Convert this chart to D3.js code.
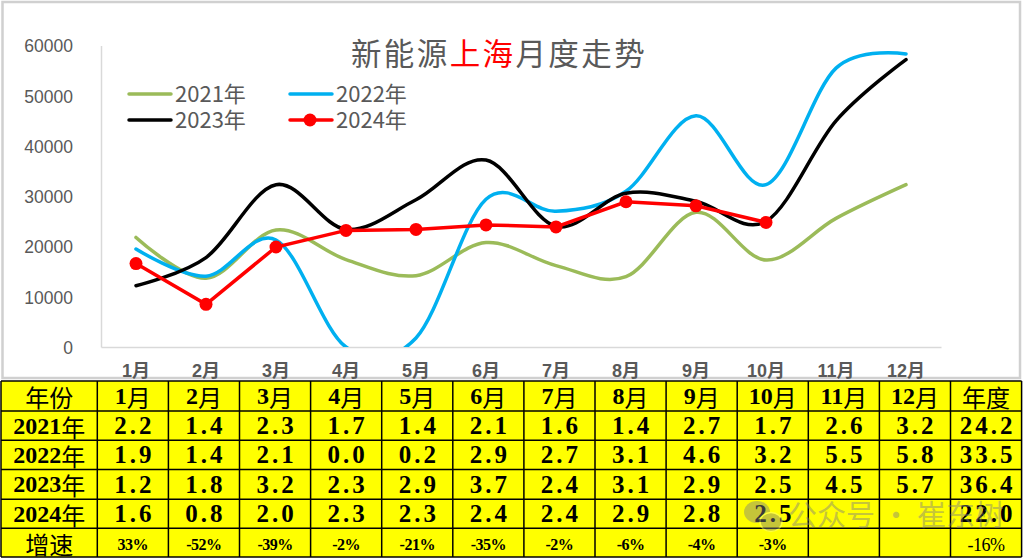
<!DOCTYPE html>
<html><head><meta charset="utf-8">
<script src="https://cdn.jsdelivr.net/npm/d3@7"></script>
<style>html,body{margin:0;padding:0;background:#fff;}svg{display:block;}</style>
</head><body>
<svg id="c" width="1024" height="559"></svg>
<script>
const months = ["1月","2月","3月","4月","5月","6月","7月","8月","9月","10月","11月","12月"];
const yTicks = [0,10000,20000,30000,40000,50000,60000];
const s2021 = [21800,13700,23300,17400,14200,20800,16200,14000,26800,17300,25600,32300];
const s2022 = [19500,14100,21300,0,1800,29400,27000,31000,46000,32300,55500,58300];
const s2023 = [12200,17800,32300,23400,29300,37200,24000,30600,29000,25000,45000,57200];
const s2024 = [16600,8500,19900,23200,23400,24300,23900,28900,28100,24800];
const seriesNames = ["2021年","2022年","2023年","2024年"];
const seriesColors = ["#9BBB59","#00B0F0","#000000","#FF0000"];
const tableHeader = ["年份","1月","2月","3月","4月","5月","6月","7月","8月","9月","10月","11月","12月","年度"];
const t2021 = ["2.2","1.4","2.3","1.7","1.4","2.1","1.6","1.4","2.7","1.7","2.6","3.2","24.2"];
const t2022 = ["1.9","1.4","2.1","0.0","0.2","2.9","2.7","3.1","4.6","3.2","5.5","5.8","33.5"];
const t2023 = ["1.2","1.8","3.2","2.3","2.9","3.7","2.4","3.1","2.9","2.5","4.5","5.7","36.4"];
const t2024 = ["1.6","0.8","2.0","2.3","2.3","2.4","2.4","2.9","2.8","2.5","","","22.0"];
const growth = ["33%","-52%","-39%","-2%","-21%","-35%","-2%","-6%","-4%","-3%","","","-16%"];

const svg = d3.select("#c");
const grey = "#595959";

// chart frame
svg.append("rect").attr("x",2.5).attr("y",2).attr("width",1017.5).attr("height",376)
  .attr("fill","#fff").attr("stroke","#d0d0d0").attr("stroke-width",2.5);

const x = d3.scaleBand().domain(months).range([101,941]);
const y = d3.scaleLinear().domain([0,60000]).range([347,45.5]);
const cx = m => x(m) + x.bandwidth()/2;

// axes
const yAxis = svg.append("g").attr("transform","translate(101,0)")
  .call(d3.axisLeft(y).tickValues(yTicks).tickSize(0).tickPadding(28).tickFormat(d3.format("d")));
yAxis.select(".domain").attr("stroke","#d9d9d9").attr("stroke-width",1.5);
yAxis.selectAll("text").attr("font-family","Liberation Sans, Arial, sans-serif")
  .attr("font-size",17.5).attr("fill",grey).attr("dy","0.36em");

const xAxis = svg.append("g").attr("transform","translate(0,347)")
  .call(d3.axisBottom(x).tickSize(0).tickPadding(0));
xAxis.select(".domain").attr("stroke","#d9d9d9").attr("stroke-width",1.5);
xAxis.selectAll("text").attr("font-family","Liberation Sans, 'Noto Sans CJK SC', sans-serif")
  .attr("font-size",18).attr("font-weight","bold").attr("fill",grey).attr("dy","0").attr("y",30);

// clip
svg.append("clipPath").attr("id","pc").append("rect").attr("x",0).attr("y",0).attr("width",1024).attr("height",347);

const gL = svg.append("g").attr("clip-path","url(#pc)");
const smooth = d3.line().x((d,i)=>cx(months[i])).y(d=>y(d)).curve(d3.curveCardinal.tension(0));
const straight = d3.line().x((d,i)=>cx(months[i])).y(d=>y(d));
[s2021,s2022,s2023].forEach((s,k)=>{
  gL.append("path").attr("d",smooth(s)).attr("fill","none").attr("stroke",seriesColors[k])
    .attr("stroke-width",3.5).attr("stroke-linecap","round");
});
gL.append("path").attr("d",straight(s2024)).attr("fill","none").attr("stroke",seriesColors[3]).attr("stroke-width",3.5);
gL.selectAll("circle.m").data(s2024).join("circle").attr("class","m")
  .attr("cx",(d,i)=>cx(months[i])).attr("cy",d=>y(d)).attr("r",6.5).attr("fill","#FF0000");

// title
const title = svg.append("text").attr("x",499).attr("y",65).attr("text-anchor","middle")
  .attr("font-family","'Noto Sans CJK SC', sans-serif").attr("font-size",30.5).attr("letter-spacing",2.4).attr("fill",grey);
title.append("tspan").text("新能源");
title.append("tspan").attr("fill","#FF0000").text("上海");
title.append("tspan").text("月度走势");

// legend
const legPos = [[128,94],[289,94],[128,120],[289,120]];
seriesNames.forEach((n,k)=>{
  const [lx,ly] = legPos[k];
  svg.append("line").attr("x1",lx+1).attr("x2",lx+43).attr("y1",ly).attr("y2",ly)
    .attr("stroke",seriesColors[k]).attr("stroke-width",3.5).attr("stroke-linecap","round");
  if(k===3) svg.append("circle").attr("cx",lx+21).attr("cy",ly).attr("r",6.5).attr("fill","#FF0000");
  svg.append("text").attr("x",lx+47).attr("y",ly+8).attr("font-family","'Noto Sans CJK SC', sans-serif")
    .attr("font-size",22).attr("fill",grey).text(n);
});

// table
const rowsY = [381,411,440.3,469.5,499.3,528.3,557];
const colX = [1].concat(d3.range(14).map(i=>97.3+i*71.1));
const rows = [tableHeader,
  ["2021年"].concat(t2021),["2022年"].concat(t2022),["2023年"].concat(t2023),
  ["2024年"].concat(t2024),["增速"].concat(growth)];
const gT = svg.append("g");
gT.append("rect").attr("x",colX[0]).attr("y",rowsY[0]).attr("width",colX[14]-colX[0]).attr("height",rowsY[6]-rowsY[0])
  .attr("fill","#FFFF00");
const isCJK = ch => /[\u3400-\u9fff]/.test(ch);
rows.forEach((r,ri)=>{
  r.forEach((v,ci)=>{
    const xm = (colX[ci]+colX[ci+1])/2, ym = (rowsY[ri]+rowsY[ri+1])/2;
    const isGrowth = ri===5 && ci>0;
    const isNum = ri>0 && ri<5 && ci>0;
    const t = gT.append("text").attr("x",xm + (isNum?1.5:0)).attr("y",ym).attr("text-anchor","middle")
      .attr("dominant-baseline","central")
      .attr("font-family","'Liberation Serif', 'Noto Sans CJK SC', serif")
      .attr("fill","#000");
    if(isGrowth){ t.text(v).attr("font-size",ci===13?18:16).attr("font-weight",ci===13?"normal":"bold").attr("letter-spacing",-0.5).attr("y",ym+2); }
    else if(isNum){ t.text(v).attr("font-size",25).attr("font-weight","bold").attr("letter-spacing",3); }
    else {
      t.attr("font-size",24).attr("y",ym);
      const runs = v.match(/[\u3400-\u9fff]+|[^\u3400-\u9fff]+/g) || [];
      runs.forEach(run=>{
        t.append("tspan").attr("font-weight", isCJK(run[0]) ? "normal" : "bold")
          .attr("font-family", isCJK(run[0]) ? "'Noto Sans CJK SC', sans-serif" : "'Liberation Serif', serif")
          .text(run);
      });
    }
  });
});
rowsY.forEach(yy=>gT.append("line").attr("x1",colX[0]).attr("x2",colX[14]).attr("y1",yy).attr("y2",yy).attr("stroke","#000").attr("stroke-width",1.5));
colX.forEach(xx=>gT.append("line").attr("x1",xx).attr("x2",xx).attr("y1",rowsY[0]).attr("y2",rowsY[6]).attr("stroke","#000").attr("stroke-width",1.5));

// watermark
const wm = svg.append("g").attr("opacity",0.45);
wm.append("ellipse").attr("cx",757).attr("cy",512).attr("rx",13).attr("ry",11).attr("fill","#7f7f7f");
wm.append("ellipse").attr("cx",771).attr("cy",522).attr("rx",11).attr("ry",9.5).attr("fill","#7f7f7f").attr("stroke","#ffff80").attr("stroke-width",1.5);
wm.append("text").attr("x",788).attr("y",526).attr("font-family","'Noto Sans CJK SC', sans-serif")
  .attr("font-size",29).attr("fill","#7f7f7f").text("公众号 · 崔东树");
</script>
</body></html>
